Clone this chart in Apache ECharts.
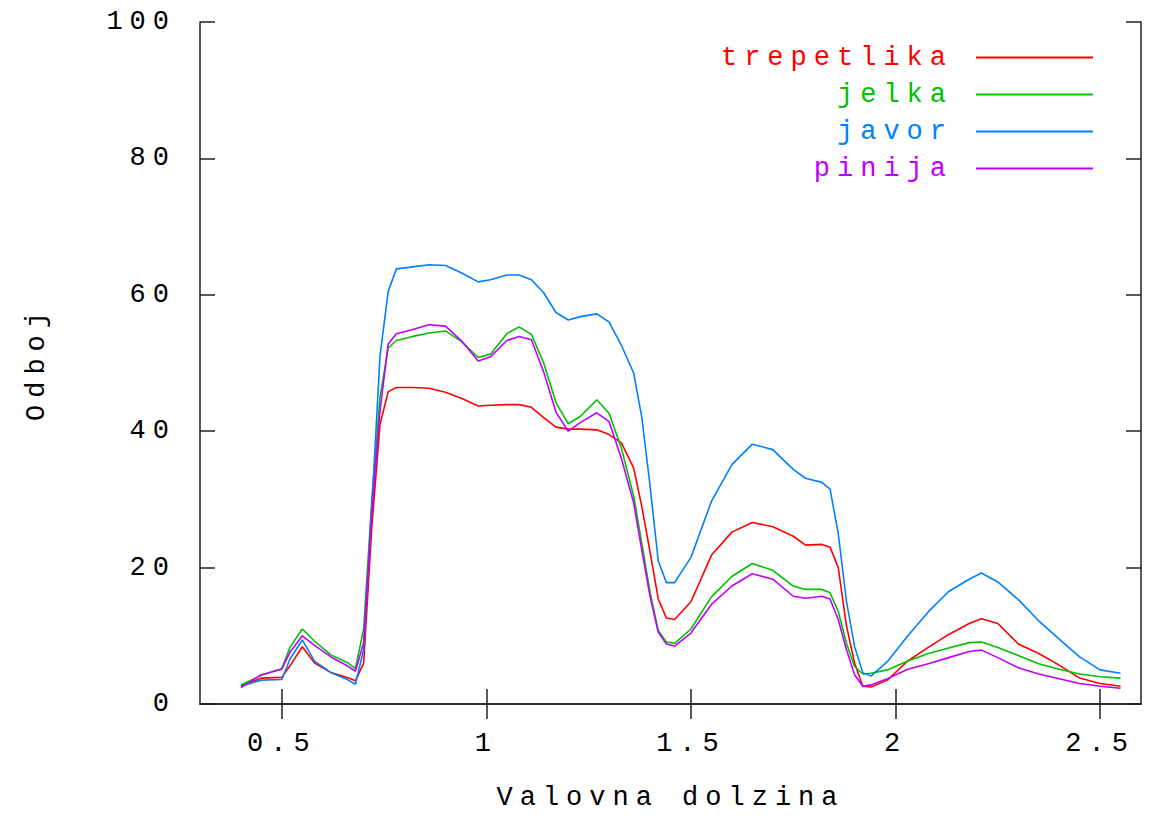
<!DOCTYPE html>
<html>
<head>
<meta charset="utf-8">
<title>Odboj</title>
<script src="https://cdn.jsdelivr.net/npm/echarts@6/dist/echarts.min.js"></script>
<style>
  html, body { margin: 0; padding: 0; background: #fff; }
  #chart { width: 1153px; height: 816px; }
  /* gnuplot-like wide letter pitch */
  #chart text { letter-spacing: 7px; }
</style>
</head>
<body>
<div id="chart"></div>
<script>
// valovna dolzina (x)
var wavelength = [0.40,0.45,0.50,0.52,0.55,0.58,0.62,0.66,0.68,0.70,
  0.72,0.74,0.76,0.78,0.82,0.86,0.90,0.94,0.98,1.01,
  1.05,1.08,1.11,1.14,1.17,1.20,1.23,1.27,1.30,1.33,
  1.36,1.38,1.40,1.42,1.44,1.46,1.50,1.55,1.60,1.65,
  1.70,1.75,1.78,1.82,1.84,1.86,1.88,1.90,1.92,1.94,
  1.98,2.03,2.08,2.13,2.18,2.21,2.25,2.30,2.35,2.40,
  2.45,2.50,2.55];

var trepetlika = [2.6,3.8,3.9,5.6,8.4,6.0,4.6,3.9,3.4,6.0,
  26,41,45.8,46.4,46.4,46.3,45.7,44.8,43.7,43.8,
  43.9,43.9,43.5,42.0,40.6,40.3,40.3,40.2,39.5,38.3,
  34.6,28.9,22.3,15.4,12.6,12.4,15.0,21.8,25.2,26.6,
  26.0,24.6,23.3,23.4,23.0,20.0,11.5,6.0,2.6,2.5,
  3.5,6.3,8.3,10.2,11.8,12.5,11.8,8.8,7.4,5.7,
  3.8,3.0,2.6];

var jelka = [2.8,4.2,5.2,8.3,11.0,9.2,7.2,6.1,5.2,11,
  30,45,52.2,53.3,53.9,54.4,54.7,53.1,50.8,51.3,
  54.3,55.3,54.2,50.0,44.2,41.1,42.2,44.6,42.6,37.5,
  30.5,23.5,16.4,10.8,9.1,8.9,11.0,15.7,18.7,20.6,
  19.6,17.3,16.8,16.8,16.3,13.6,8.9,5.5,4.4,4.5,
  5.0,6.3,7.4,8.2,9.0,9.1,8.3,7.1,5.9,5.1,
  4.4,4.0,3.8];

var javor = [2.6,3.5,3.6,6.6,9.4,6.3,4.6,3.6,2.9,8,
  29,51,60.5,63.8,64.1,64.4,64.3,63.2,61.9,62.2,
  62.9,62.9,62.2,60.3,57.4,56.3,56.8,57.2,56.0,52.6,
  48.5,42.0,32.0,21.0,17.8,17.8,21.5,29.7,35.1,38.1,
  37.3,34.4,33.1,32.5,31.5,25.0,15.1,8.4,4.6,4.1,
  6.2,10.0,13.5,16.5,18.3,19.2,17.9,15.3,12.2,9.5,
  6.9,5.0,4.5];

var pinija = [2.4,4.3,5.1,7.6,10.0,8.6,6.9,5.6,4.8,9,
  28,43,52.8,54.3,54.9,55.6,55.4,53.2,50.3,50.9,
  53.3,53.9,53.4,48.7,42.8,40.0,41.3,42.7,41.4,36.0,
  29.5,22.5,15.8,10.5,8.8,8.5,10.4,14.6,17.3,19.1,
  18.3,15.8,15.5,15.8,15.4,12.4,8.0,4.3,2.6,2.8,
  3.7,5.1,5.9,6.8,7.7,7.9,6.8,5.3,4.4,3.7,
  3.0,2.6,2.3];

var seriesNames = ['trepetlika', 'jelka', 'javor', 'pinija'];
var seriesValues = [trepetlika, jelka, javor, pinija];
var colors = ['#ff0000', '#00c000', '#0080ff', '#c000ff'];

var xTicks = [0.5, 1, 1.5, 2, 2.5];

var FONT = 'Liberation Mono';
var axisColor = '#222';

function pairs(vals) {
  return wavelength.map(function (x, i) { return [x, vals[i]]; });
}

var chart = echarts.init(document.getElementById('chart'), null, { renderer: 'svg' });

var lineStyle = { color: axisColor, width: 1.5 };
var labelStyle = { fontFamily: FONT, fontSize: 27, color: '#000' };

chart.setOption({
  animation: false,
  backgroundColor: '#fff',
  color: colors,
  grid: { left: 200, right: 12, top: 22, bottom: 111 },
  legend: {
    orient: 'vertical',
    align: 'right',
    padding: 0,
    right: 60,
    top: 44,
    icon: 'rect',
    itemWidth: 117,
    itemHeight: 2,
    itemGap: 10,
    selectedMode: false,
    textStyle: { fontFamily: FONT, fontSize: 27, lineHeight: 25, padding: [0, 18, 0, 0] },
    data: seriesNames.map(function (n, i) {
      return { name: n, textStyle: { color: colors[i] } };
    })
  },
  xAxis: [{
    type: 'value',
    position: 'bottom',
    min: 0.3,
    max: 2.6,
    axisLine: { show: true, lineStyle: lineStyle },
    axisTick: { show: true, inside: true, length: 15, customValues: xTicks, lineStyle: lineStyle },
    axisLabel: Object.assign({ customValues: xTicks, margin: 26,
      formatter: function (v) { return String(v); } }, labelStyle),
    splitLine: { show: false },
    name: 'Valovna dolzina',
    nameLocation: 'middle',
    nameGap: 80,
    nameTextStyle: labelStyle
  }, {
    type: 'value',
    position: 'top',
    min: 0.3,
    max: 2.6,
    axisLine: { show: true, lineStyle: lineStyle },
    axisTick: { show: true, inside: true, length: 15, customValues: xTicks, lineStyle: lineStyle },
    axisLabel: { show: false },
    splitLine: { show: false }
  }],
  yAxis: [{
    type: 'value',
    position: 'left',
    min: 0,
    max: 100,
    interval: 20,
    axisLine: { show: true, lineStyle: lineStyle },
    axisTick: { show: true, inside: true, length: 15, lineStyle: lineStyle },
    axisLabel: Object.assign({ margin: 24 }, labelStyle),
    splitLine: { show: false },
    name: 'Odboj',
    nameLocation: 'middle',
    nameGap: 150,
    nameTextStyle: labelStyle
  }, {
    type: 'value',
    position: 'right',
    min: 0,
    max: 100,
    interval: 20,
    axisLine: { show: true, lineStyle: lineStyle },
    axisTick: { show: true, inside: true, length: 15, lineStyle: lineStyle },
    axisLabel: { show: false },
    splitLine: { show: false }
  }],
  series: seriesNames.map(function (n, i) {
    return {
      name: n,
      type: 'line',
      data: pairs(seriesValues[i]),
      showSymbol: false,
      symbol: 'none',
      smooth: false,
      lineStyle: { width: 1.6, color: colors[i] },
      emphasis: { disabled: true }
    };
  })
});
</script>
</body>
</html>
